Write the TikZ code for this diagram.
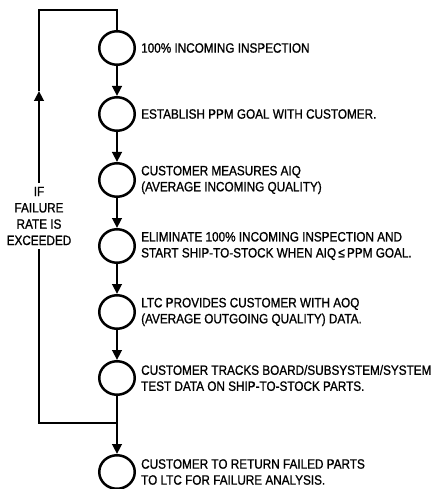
\documentclass[tikz,border=0pt]{standalone}
\usepackage{fontspec}
\setmainfont{Liberation Sans}[FakeStretch=0.87,FakeBold=1]
\usetikzlibrary{arrows.meta,shapes.geometric}
\begin{document}
\begin{tikzpicture}[x=1pt,y=-1pt,
  stepcirc/.style={draw,ellipse,line width=2.5pt,minimum width=35.5pt,minimum height=33.5pt,inner sep=0pt},
  steptext/.style={anchor=west,align=left,inner sep=0pt,font=\fontsize{13.5}{16}\selectfont},
  looptext/.style={align=center,inner xsep=0pt,inner ysep=4pt,font=\fontsize{13.5}{16.3}\selectfont},
  conn/.style={line width=2.5pt},
  tip/.style={-{Triangle[length=10pt,width=9.5pt]}}]
\useasboundingbox (0,0) rectangle (446,489);
\node[stepcirc] (c1) at (117,48) {};
\node[stepcirc] (c2) at (117,114) {};
\node[stepcirc] (c3) at (117,180) {};
\node[stepcirc] (c4) at (117,246) {};
\node[stepcirc] (c5) at (117,312) {};
\node[stepcirc] (c6) at (117,378) {};
\node[stepcirc] (c7) at (117,472) {};
\node[steptext] (t1) at (141,48) {100\% INCOMING INSPECTION};
\node[steptext] (t2) at (141,114) {ESTABLISH PPM GOAL WITH CUSTOMER.};
\node[steptext] (t3) at (141,180) {CUSTOMER MEASURES AIQ\\(AVERAGE INCOMING QUALITY)};
\node[steptext] (t4) at (141,246) {ELIMINATE 100\% INCOMING INSPECTION AND\\START SHIP-TO-STOCK WHEN AIQ\,≤\,PPM GOAL.};
\node[steptext] (t5) at (141,312) {LTC PROVIDES CUSTOMER WITH AOQ\\(AVERAGE OUTGOING QUALITY) DATA.};
\node[steptext] (t6) at (141,378) {CUSTOMER TRACKS BOARD/SUBSYSTEM/SYSTEM\\TEST DATA ON SHIP-TO-STOCK PARTS.};
\node[steptext] (t7) at (141,472) {CUSTOMER TO RETURN FAILED PARTS\\TO LTC FOR FAILURE ANALYSIS.};
\node[looptext] (lbl) at (39,216) {IF\\FAILURE\\RATE IS\\EXCEEDED};
\coordinate (tl) at (39,10);
\coordinate (tr) at (117,10);
\coordinate (am) at (39,91);
\coordinate (j) at (117,423);
\coordinate (jl) at (39,423);
\draw[conn,tip] (c1.south) -- (c2.north);
\draw[conn,tip] (c2.south) -- (c3.north);
\draw[conn,tip] (c3.south) -- (c4.north);
\draw[conn,tip] (c4.south) -- (c5.north);
\draw[conn,tip] (c5.south) -- (c6.north);
\draw[conn] (c6.south) -- (j);
\draw[conn,tip] (j) -- (c7.north);
\draw[conn] (j) -- (jl) -- (lbl.south);
\draw[conn,tip] (lbl.north) -- (am);
\draw[conn] (am) -- (tl) -- (tr) -- (c1.north);
\end{tikzpicture}
\end{document}
